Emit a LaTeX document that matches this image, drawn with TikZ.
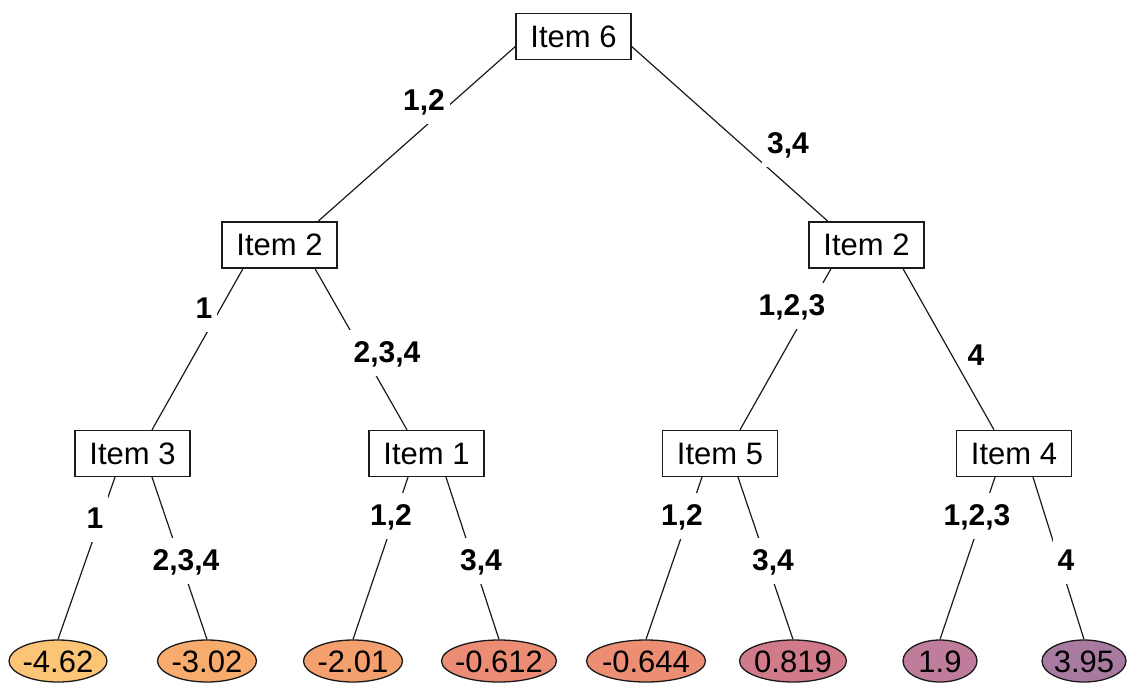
\documentclass[tikz,border=0pt]{standalone}
\usepackage{fontspec}
\setmainfont{Liberation Sans}
\usetikzlibrary{shapes.geometric,calc}
\definecolor{lf1}{HTML}{FBC575}
\definecolor{lf2}{HTML}{F7AC6E}
\definecolor{lf3}{HTML}{F4A06E}
\definecolor{lf4}{HTML}{EC8C74}
\definecolor{lf5}{HTML}{EC8E73}
\definecolor{lf6}{HTML}{D07A8A}
\definecolor{lf7}{HTML}{C07D9B}
\definecolor{lf8}{HTML}{A97AA0}
\definecolor{ink}{HTML}{1A1A1A}
\begin{document}
\begin{tikzpicture}[x=1pt,y=-1pt,
  itembox/.style={draw=ink, line width=1.3pt, fill=white, minimum width=115pt, minimum height=46pt, inner sep=0pt, font=\fontsize{31}{37}\selectfont},
  leaf/.style={ellipse, draw=ink, line width=1.3pt, minimum height=42pt, inner sep=0pt, text height=22pt, text depth=0pt, font=\fontsize{31}{37}\selectfont},
  elabel/.style={fill=white, inner xsep=5pt, inner ysep=0pt, text height=32pt, text depth=14pt, anchor=base, font=\bfseries\fontsize{30}{36}\selectfont},
  edge/.style={line width=1.2pt, draw=ink}]
\useasboundingbox (0,0) rectangle (1127,683);
% inner nodes
\node[itembox] (n6)  at (573.5,36.5) {Item 6};
\node[itembox] (n2l) at (279.5,245) {Item 2};
\node[itembox] (n2r) at (866.5,245) {Item 2};
\node[itembox] (n3)  at (132.5,453.5) {Item 3};
\node[itembox] (n1)  at (426.5,453.5) {Item 1};
\node[itembox] (n5)  at (720,453.5) {Item 5};
\node[itembox] (n4)  at (1014,453.5) {Item 4};
% leaves
\node[leaf, fill=lf1, minimum width=98pt]  (l1) at (58,661)   {\makebox[0pt]{-4.62}};
\node[leaf, fill=lf2, minimum width=99pt]  (l2) at (207,661)  {\makebox[0pt]{-3.02}};
\node[leaf, fill=lf3, minimum width=99pt]  (l3) at (353,661)  {\makebox[0pt]{-2.01}};
\node[leaf, fill=lf4, minimum width=115pt] (l4) at (499,661)  {\makebox[0pt]{-0.612}};
\node[leaf, fill=lf5, minimum width=119pt] (l5) at (646,661)  {\makebox[0pt]{-0.644}};
\node[leaf, fill=lf6, minimum width=107pt] (l6) at (793,661)  {\makebox[0pt]{0.819}};
\node[leaf, fill=lf7, minimum width=74pt]  (l7) at (940,661)  {\makebox[0pt]{1.9}};
\node[leaf, fill=lf8, minimum width=84pt]  (l8) at (1084,661) {\makebox[0pt]{3.95}};
% edges
\draw[edge] ($(n6.west)+(0,10)$) -- ($(n2l.north)+(38.5,0)$);
\draw[edge] ($(n6.east)+(0,10)$) -- ($(n2r.north)+(-38.5,0)$);
\draw[edge] ($(n2l.south)+(-36.5,0)$) -- ($(n3.north)+(19.5,0)$);
\draw[edge] ($(n2l.south)+(35.5,0)$) -- ($(n1.north)+(-19.5,0)$);
\draw[edge] ($(n2r.south)+(-35.5,0)$) -- ($(n5.north)+(20,0)$);
\draw[edge] ($(n2r.south)+(36.5,0)$) -- ($(n4.north)+(-20,0)$);
\draw[edge] ($(n3.south)+(-17.5,0)$) -- (l1.north);
\draw[edge] ($(n3.south)+(19.5,0)$) -- (l2.north);
\draw[edge] ($(n1.south)+(-18.5,0)$) -- (l3.north);
\draw[edge] ($(n1.south)+(19.5,0)$) -- (l4.north);
\draw[edge] ($(n5.south)+(-18,0)$) -- (l5.north);
\draw[edge] ($(n5.south)+(18,0)$) -- (l6.north);
\draw[edge] ($(n4.south)+(-19,0)$) -- (l7.north);
\draw[edge] ($(n4.south)+(19,0)$) -- (l8.north);
% edge labels
\node[elabel] (e1)  at (424,110) {1,2};
\node[elabel] (e2)  at (788,153) {3,4};
\node[elabel] (e3)  at (204,318) {1};
\node[elabel] (e4)  at (387,362) {2,3,4};
\node[elabel] (e5)  at (792,315) {1,2,3};
\node[elabel, inner xsep=0pt, text depth=4pt] (e6)  at (976,365) {4};
\node[elabel] (e7)  at (95,528)  {1};
\node[elabel] (e8)  at (186,570) {2,3,4};
\node[elabel] (e9)  at (391,525) {1,2};
\node[elabel] (e10) at (481,570) {3,4};
\node[elabel] (e11) at (682,525) {1,2};
\node[elabel] (e12) at (773,570) {3,4};
\node[elabel] (e13) at (977,525) {1,2,3};
\node[elabel] (e14) at (1066,570) {4};
\end{tikzpicture}
\end{document}
